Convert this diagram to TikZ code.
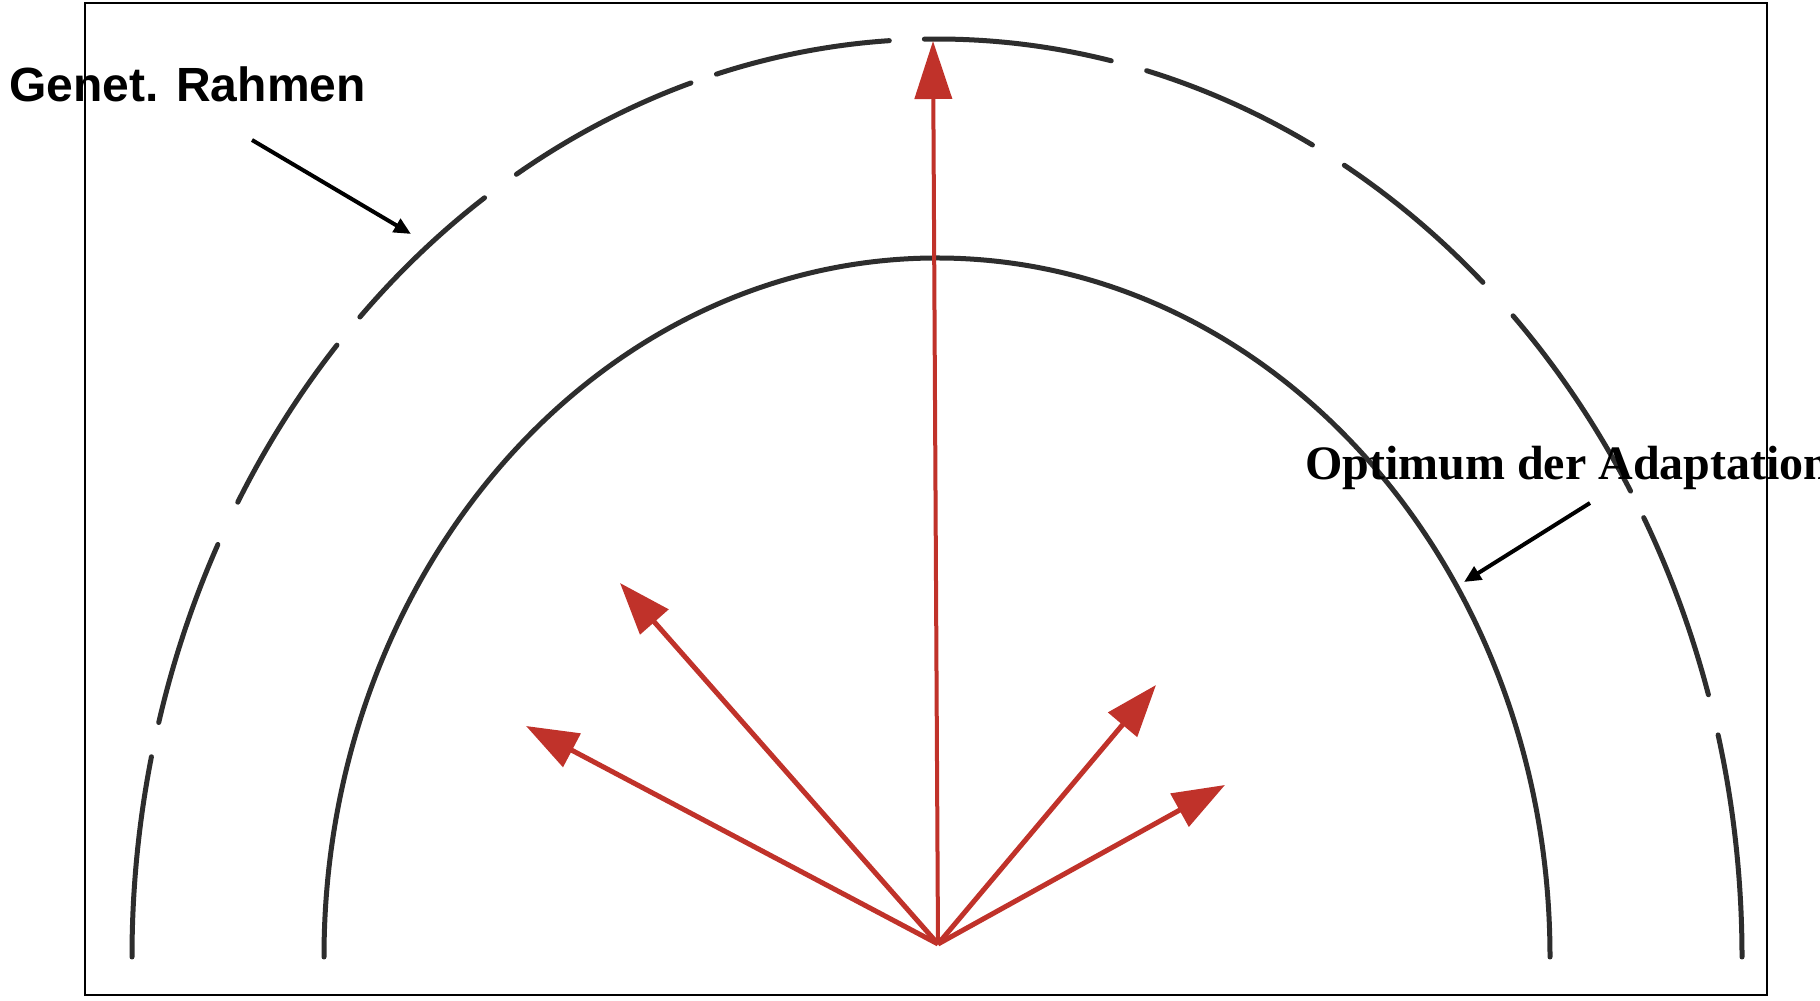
\documentclass[tikz,border=0pt]{standalone}
\usepackage{fontspec}
\newfontfamily\lsans{Liberation Sans}
\newfontfamily\lserif{Liberation Serif}
\usetikzlibrary{arrows.meta,calc}
\definecolor{arcgray}{RGB}{45,45,45}
\definecolor{redarr}{RGB}{192,50,42}
\tikzset{
  arcline/.style={line width=5pt, draw=arcgray, line cap=round},
  redarrow/.style={draw=redarr, line width=5pt, -{Triangle[length=52pt,width=37pt]}, redarr},
  labelarrow/.style={draw=black, line width=4pt, -{Triangle[length=17pt,width=15pt]}},
  frame/.style={draw=black, line width=2pt},
  lbl/.style={inner sep=0pt, anchor=base west, text=black}
}
\begin{document}
\begin{tikzpicture}[x=1pt,y=1pt]
\useasboundingbox (0,0) rectangle (1820,1001);
\fill[white] (0,0) rectangle (1820,1001);
% frame
\draw[frame] (85,6) rectangle (1767,998);
% centre of ellipses
\coordinate (C) at (937,44);
% outer dashed arc (genetic frame)
\foreach \a/\b in {0/14.0, 16.6/28.6, 30.5/44.3, 47.3/59.6, 62.2/74.9, 77.5/90.9, 93.4/105.9, 107.8/121.5, 124.2/135.8, 138.2/150.3, 153.3/165.2, 167.4/180}
  \draw[arcline] ($(C)+(\a:805 and 918)$) arc[start angle=\a, end angle=\b, x radius=805, y radius=918];
% inner solid arc (optimum)
\draw[arcline] ($(C)+(0:613 and 699)$) arc[start angle=0, end angle=180, x radius=613, y radius=699];
% red arrows
\coordinate (O) at (938,57);
\coordinate (T0) at (933,960);
\coordinate (T1) at (526,275);
\coordinate (T2) at (620,418);
\coordinate (T3) at (1156,316);
\coordinate (T4) at (1225,216);
\draw[redarrow, line width=4pt, -{Triangle[length=58pt,width=37pt]}] (O) -- (T0);
\draw[redarrow] (O) -- (T1);
\draw[redarrow] (O) -- (T2);
\draw[redarrow] (O) -- (T3);
\draw[redarrow] (O) -- (T4);
% labels
\node[lbl] (genet) at (9,899) {\lsans\fontsize{48}{58}\selectfont\bfseries Genet. Rahmen};
\node[lbl] (optimum) at (1305,521) {\lserif\fontsize{48}{58}\selectfont\bfseries Optimum der Adaptation};
\coordinate (gs) at (252,861);
\coordinate (ge) at (411,767);
\coordinate (os) at (1590,498);
\coordinate (oe) at (1464,419);
\draw[labelarrow] (gs) -- (ge);
\draw[labelarrow] (os) -- (oe);
\end{tikzpicture}
\end{document}
